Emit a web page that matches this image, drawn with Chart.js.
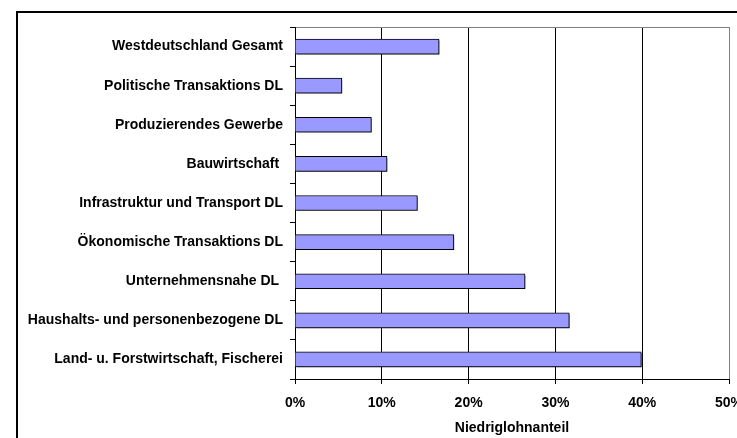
<!DOCTYPE html>
<html>
<head>
<meta charset="utf-8">
<script src="https://cdn.jsdelivr.net/npm/chart.js@4/dist/chart.umd.min.js"></script>
<style>
  html, body { margin: 0; padding: 0; background: #fff; overflow: hidden; }
  #wrap { position: relative; width: 737px; height: 438px; }
  #c { position: absolute; left: 0; top: 0; }
  #frame { position: absolute; left: 16px; top: 11px; width: 800px; height: 500px;
           border: 2px solid #000; box-sizing: border-box; pointer-events: none; }
</style>
</head>
<body>
<div id="wrap">
  <canvas id="c" width="737" height="438"></canvas>
  <div id="frame"></div>
</div>
<script>
const categories = [
  'Westdeutschland Gesamt',
  'Politische Transaktions DL',
  'Produzierendes Gewerbe',
  'Bauwirtschaft ',
  'Infrastruktur und Transport DL',
  'Ökonomische Transaktions DL',
  'Unternehmensnahe DL ',
  'Haushalts- und personenbezogene DL',
  'Land- u. Forstwirtschaft, Fischerei'
];
const niedriglohnanteil = [16.6, 5.4, 8.8, 10.6, 14.1, 18.3, 26.5, 31.6, 39.9];
const xTicks = [0, 10, 20, 30, 40, 50];
const xTitle = 'Niedriglohnanteil';

const FONT = "'Liberation Sans', Arial, sans-serif";

const shadowPlugin = {
  id: 'barShadow',
  beforeDatasetsDraw(chart) {
    const ctx = chart.ctx;
    ctx.save();
    ctx.shadowColor = 'rgba(0,0,0,0.45)';
    ctx.shadowOffsetX = 1.5;
    ctx.shadowOffsetY = 1.5;
    ctx.shadowBlur = 0;
  },
  afterDatasetsDraw(chart) {
    chart.ctx.restore();
  }
};

new Chart(document.getElementById('c'), {
  type: 'bar',
  data: {
    labels: categories,
    datasets: [{
      label: xTitle,
      data: niedriglohnanteil,
      backgroundColor: '#9999FF',
      borderColor: '#000000',
      borderWidth: 1,
      barThickness: 15
    }]
  },
  plugins: [shadowPlugin],
  options: {
    indexAxis: 'y',
    responsive: false,
    animation: false,
    devicePixelRatio: 1,
    layout: { padding: { left: 0, right: 8, top: 27, bottom: 0 } },
    plugins: { legend: { display: false }, tooltip: { enabled: false } },
    scales: {
      x: {
        type: 'linear',
        position: 'bottom',
        min: 0,
        max: 50,
        afterBuildTicks(scale) { scale.ticks = xTicks.map(v => ({ value: v })); },
        afterFit(scale) {
          scale.height = 59;
          scale.paddingLeft = 0; scale.paddingRight = 0;
        },
        grid: {
          color: (c) => (c.tick && c.tick.value === 50) ? '#808080' : '#000000',
          lineWidth: 1,
          drawTicks: true,
          tickLength: 5,
          tickColor: '#000000'
        },
        border: { display: true, color: '#000000', width: 1 },
        ticks: {
          color: '#000',
          padding: 11,
          font: { family: FONT, size: 14, weight: 'bold' },
          callback: (v) => v + '%',
          maxRotation: 0
        },
        title: {
          display: true,
          text: xTitle,
          color: '#000',
          font: { family: FONT, size: 14, weight: 'bold' },
          padding: { top: 0, bottom: 1 }
        }
      },
      x2: {
        type: 'linear',
        position: 'top',
        display: true,
        afterFit(scale) { scale.height = 0; scale.paddingLeft = 0; scale.paddingRight = 0; },
        grid: { drawOnChartArea: false, drawTicks: false },
        border: { display: true, color: '#808080', width: 1 },
        ticks: { display: false }
      },
      y: {
        type: 'category',
        afterFit(scale) {
          scale.width = 295;
          scale.paddingTop = 0; scale.paddingBottom = 0;
        },
        grid: {
          offset: true,
          drawOnChartArea: false,
          drawTicks: true,
          tickLength: 5,
          color: '#000000'
        },
        border: { display: true, color: '#000000', width: 1 },
        ticks: {
          color: '#000',
          padding: 7,
          autoSkip: false,
          font: { family: FONT, size: 14, weight: 'bold' }
        }
      }
    }
  }
});
</script>
</body>
</html>
